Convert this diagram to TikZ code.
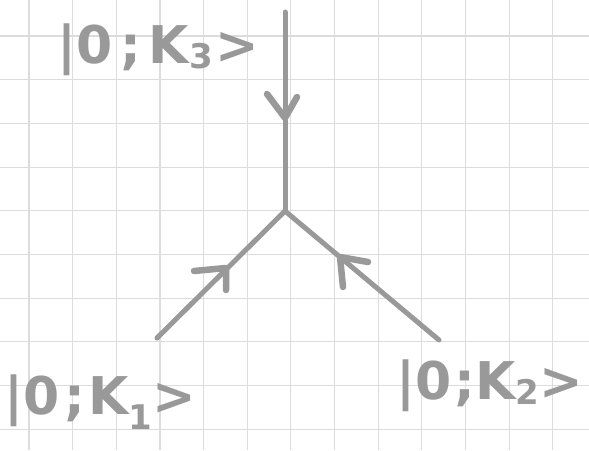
\documentclass[tikz,border=0pt]{standalone}
\usepackage{fontspec}
\setmainfont{DejaVu Sans}
\usetikzlibrary{calc}
\definecolor{ink}{HTML}{999999}
\definecolor{gridc}{HTML}{DCDCDC}
\tikzset{
  gridline/.style={draw=gridc, line width=1.1pt},
  leg/.style={draw=ink, line width=5pt, line cap=round, line join=round},
  barb/.style={draw=ink, line width=6.5pt, line cap=round, line join=round},
  lab/.style={text=ink, font=\bfseries\fontsize{52}{56}\selectfont, inner sep=0pt, anchor=center}
}
\newcommand{\subn}[2]{\raisebox{#1}{\fontsize{34}{34}\selectfont #2}}
\begin{document}
\begin{tikzpicture}[x=1pt,y=-1pt]
\useasboundingbox (0,0) rectangle (589,450);
\fill[white] (0,0) rectangle (589,450);
% grid
\foreach \k in {0,...,12} {\draw[gridline] ({29+43.65*\k},0) -- ({29+43.65*\k},450);}
\foreach \k in {0,...,9} {\draw[gridline] (0,{36+43.7*\k}) -- (589,{36+43.7*\k});}
% vertices
\coordinate (v) at (285,211);
\coordinate (t) at (285,12);
\coordinate (a) at (157,338);
\coordinate (b) at (439,340);
\draw[leg] (t) -- (v);
\draw[leg] (a) -- (v);
\draw[leg] (b) -- (v);
% arrowheads
\coordinate (h3) at (285,118);
\draw[barb] ($(h3)+(-18,-24)$) -- (h3) -- ($(h3)+(12,-21)$);
\coordinate (h1) at (226,268);
\draw[barb] ($(h1)+(-32,3)$) -- (h1) -- ($(h1)+(0,22)$);
\coordinate (h2) at (340,257);
\draw[barb] ($(h2)+(28,5)$) -- (h2) -- ($(h2)+(3,30)$);
% labels
\node[lab] (l3) at (158,50) {|0\hspace{0.15em};\hspace{0.15em}K\subn{-0.1em}{3}\hspace{0.05em}>};
\node[lab] (l1) at (100,402) {|0\hspace{0.1em};\hspace{0.05em}K\subn{-0.3em}{1}>};
\node[lab] (l2) at (490,386) {|0\hspace{0.05em};K\subn{-0.1em}{2}>};
\end{tikzpicture}
\end{document}
